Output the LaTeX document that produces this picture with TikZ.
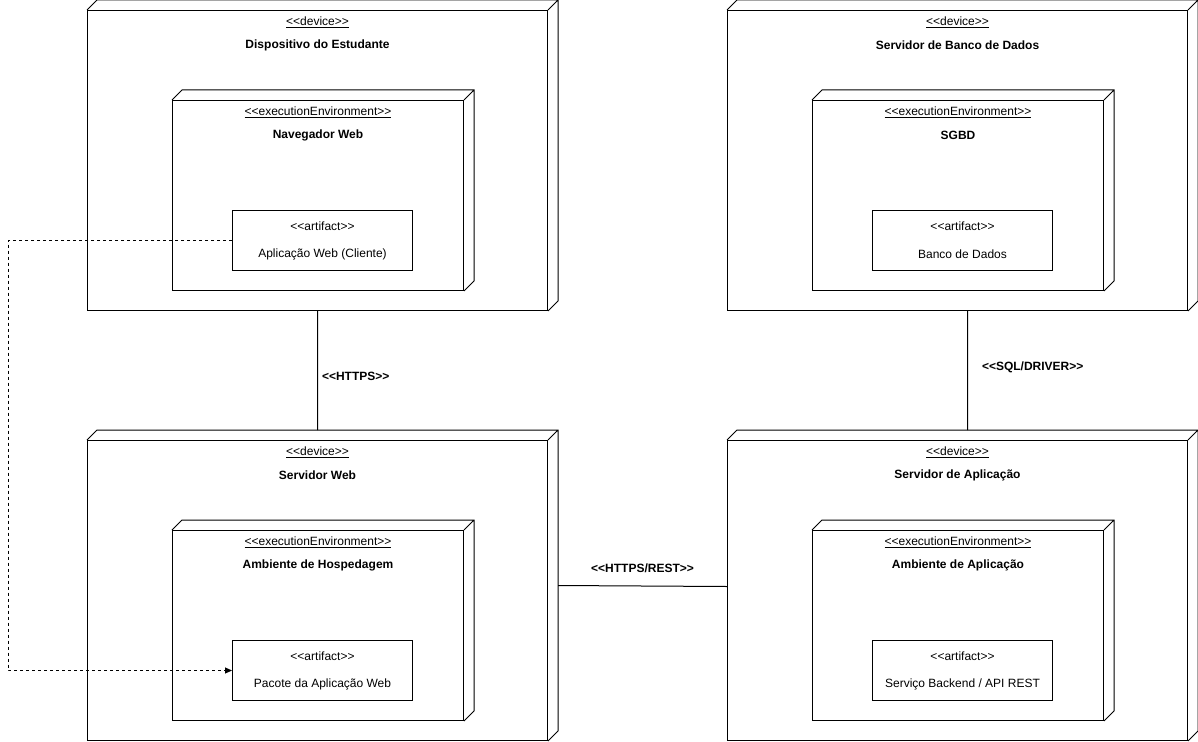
\documentclass[tikz,border=0pt]{standalone}
\usepackage{fontspec}
\setmainfont{Liberation Sans}[Ligatures=TeXOff]
\usetikzlibrary{positioning,arrows.meta}

\tikzset{
  link/.style={line width=1pt},
  face/.style={link, draw, anchor=north west, inner sep=0pt},
  stereo/.style={font=\fontsize{12}{14}\selectfont, inner sep=0pt},
  title/.style={font=\fontsize{12}{14}\selectfont\bfseries, inner sep=0pt}
}
% back edges of a 3d node box
\newcommand{\cubeedges}[1]{\draw[link] (#1.north west) -- ++(10,-10) -| ([shift={(10,-10)}]#1.south east) -- (#1.south east) (#1.north east) -- ++(10,-10);}

\begin{document}
\begin{tikzpicture}[x=1pt,y=-1pt]
    \useasboundingbox (0,0) rectangle (1198,741);
    \foreach \n/\x/\y/\devname/\envname/\artname in {
        S/87/10/Dispositivo do Estudante/Navegador Web/Aplicação Web (Cliente),
        B/727/10/Servidor de Banco de Dados/SGBD/Banco de Dados,
        W/87/440/Servidor Web/Ambiente de Hospedagem/Pacote da Aplicação Web,
        A/727/440/Servidor de Aplicação/Ambiente de Aplicação/{Serviço Backend / API REST}}{
        \node[face, minimum width=460pt, minimum height=300pt] at (\x,\y) (dev\n) {};
        \cubeedges{dev\n}
        \node[stereo] at ([yshift=-12.5pt]dev\n.north) {\underline{<<device>>}};
        \node[title] at ([yshift=-35.5pt]dev\n.north) {\devname};
        \node[face, minimum width=291pt, minimum height=190pt] at ([shift={(85,90)}]dev\n.north west) (env\n) {};
        \cubeedges{env\n}
        \node[stereo] at ([yshift=-12.5pt]env\n.north) {\underline{<<executionEnvironment>>}};
        \node[title] at ([yshift=-35.5pt]env\n.north) {\envname};
        \node[face, minimum width=180pt, minimum height=60pt] at ([shift={(145,200)}]dev\n.north west) (art\n) {};
        \node[stereo] at ([yshift=-16pt]art\n.north) {<<artifact>>};
        \node[stereo] at ([yshift=-44pt]art\n.north) {\artname};
    }
    \draw[link]
    (devS.south) -- ([yshift=10pt]devW.north) node[pos=0.55, right=4pt, title] {<<HTTPS>>}
    ([xshift=10pt]devB.south) -- ([shift={(10,-10)}]devA.north) node[pos=0.47, right=14pt, title] {<<SQL/DRIVER>>}
    ([shift={(10,-5)}]devW.east) -- ([yshift=4pt]devA.west) node[midway, above=13pt, title] {<<HTTPS/REST>>};
    \draw[link, dash pattern=on 3pt off 3pt, -{Triangle[length=7pt,width=6pt]}]
    (artS.west) -- ++(-224,0) |- (artW.west);
\end{tikzpicture}
\end{document}
